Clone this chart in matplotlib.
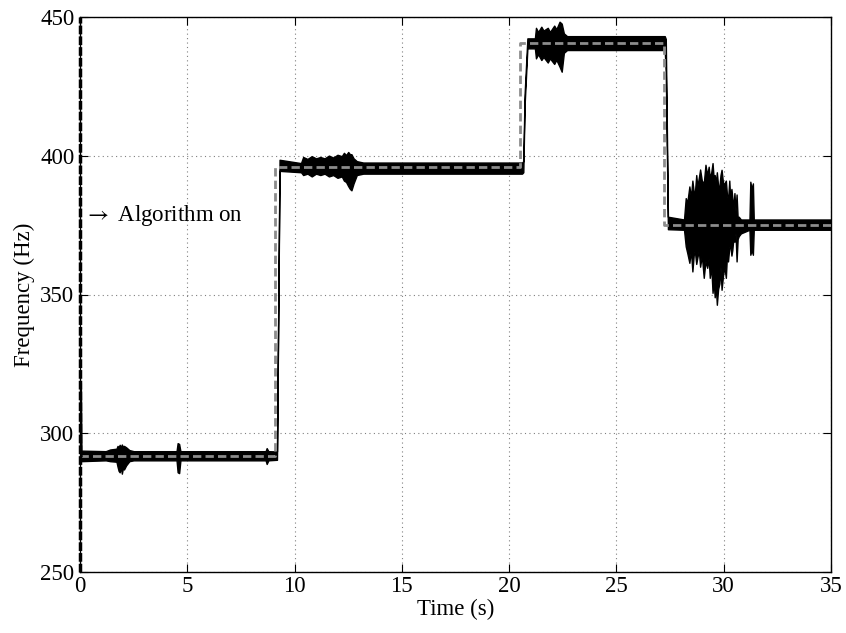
import numpy as np
import matplotlib
matplotlib.use('Agg')
import matplotlib.pyplot as plt

plt.rcParams['font.family'] = ['Liberation Serif', 'DejaVu Serif']
plt.rcParams['mathtext.fontset'] = 'stix'

# reference frequency (grey dashed), step values
ref_t = [0.0, 9.1, 20.5, 27.2, 35.0]
ref_f = [292.0, 396.0, 440.5, 375.0, 375.0]

env_t = [0.05, 1.2, 1.4, 1.7, 1.75, 1.8, 1.85, 1.9, 1.95, 2.0, 2.05, 2.15, 2.3, 2.5,
         4.5, 4.55, 4.62, 4.68, 8.65, 8.7, 8.78, 9.18,
         9.3, 10.3, 10.4, 10.6, 10.8, 11.0, 11.2, 11.4, 11.6, 11.8, 12.0, 12.2, 12.3, 12.4,
         12.5, 12.58, 12.65, 12.75, 12.9, 13.2, 20.6,
         20.66, 20.72, 20.85, 21.2, 21.25, 21.35, 21.5, 21.6, 21.8, 21.9, 22.1, 22.2, 22.35,
         22.45, 22.55, 22.7, 27.25,
         27.3, 27.4, 28.15, 28.23, 28.3, 28.4, 28.47, 28.54, 28.6, 28.65, 28.72, 28.77, 28.84,
         28.9, 28.98, 29.07, 29.15, 29.23, 29.3, 29.35, 29.42, 29.48, 29.53, 29.58, 29.63,
         29.68, 29.74, 29.8, 29.85, 29.9, 29.97, 30.03, 30.1, 30.15, 30.2, 30.26, 30.3, 30.36,
         30.4, 30.45, 30.5, 30.55, 30.6, 30.65, 30.7, 30.8,
         31.2, 31.24, 31.3, 31.36, 31.4, 35.0]
env_lo = [290.0, 290.3, 290.0, 289.8, 288.0, 286.5, 286.0, 288.0, 285.5, 287.5, 287.0, 288.5, 290.0, 290.3,
          290.3, 286.0, 285.7, 290.3, 290.3, 289.0, 290.3, 290.5,
          394.5, 394.0, 393.0, 393.5, 392.5, 393.5, 393.0, 393.5, 392.5, 393.0, 392.0, 392.5, 391.0, 390.5,
          389.0, 388.0, 387.5, 390.0, 393.0, 393.5, 393.5,
          394.0, 418.0, 438.6, 438.6, 435.0, 436.5, 434.4, 435.5, 433.5, 435.0, 433.0, 434.5, 432.0,
          430.2, 437.0, 438.0, 438.0,
          430.0, 373.5, 373.3, 367.3, 365.0, 361.4, 366.0, 358.3, 364.0, 366.0, 361.0, 363.2, 366.0,
          360.0, 364.0, 356.0, 362.0, 359.6, 363.0, 356.0, 360.0, 350.6, 355.0, 349.0, 353.0,
          346.3, 352.0, 354.0, 360.0, 351.7, 357.0, 360.0, 356.0, 364.0, 361.9, 367.0, 368.0, 364.0,
          366.0, 370.0, 369.0, 372.0, 361.9, 370.0, 371.0, 372.0,
          373.3, 364.3, 366.0, 364.3, 373.3, 373.3]
env_hi = [293.8, 293.6, 294.2, 294.5, 295.5, 295.0, 295.9, 295.0, 296.0, 295.2, 295.5, 295.0, 294.0, 293.6,
          293.6, 296.5, 296.2, 293.6, 293.6, 294.7, 293.6, 293.5,
          398.5, 397.3, 399.5, 398.8, 399.8, 399.0, 399.5, 399.0, 400.0, 399.3, 400.3, 399.8, 401.0, 400.2,
          401.3, 400.5, 400.5, 399.0, 398.0, 397.5, 397.5,
          398.0, 422.0, 442.2, 442.2, 446.0, 444.5, 446.4, 445.0, 446.0, 444.5, 446.8, 445.5, 448.2,
          447.5, 444.0, 443.0, 443.0,
          442.0, 378.0, 377.0, 384.7, 383.0, 388.9, 385.0, 391.0, 387.0, 386.0, 393.0, 389.0, 392.0,
          395.0, 391.0, 390.0, 396.7, 393.0, 396.0, 392.0, 394.0, 397.3, 392.0, 393.0, 390.0,
          394.0, 389.0, 389.0, 393.0, 394.9, 390.0, 390.0, 391.0, 386.0, 384.0, 391.0, 385.0, 388.0,
          385.0, 381.0, 386.5, 380.0, 386.0, 377.5, 378.0, 377.0,
          377.0, 390.6, 388.0, 390.0, 377.0, 377.0]

# start-up transient at t = 0
start_t = [0.0, 0.03, 0.06]
start_f = [292.0, 318.0, 292.0]

# "algorithm on" marker
on_t = 0.0
on_f = [250.0, 450.0]

fig = plt.figure(figsize=(8.46, 6.33), dpi=100)
ax = fig.add_axes([80/846, 60.7/633, 751/846, 555.6/633])

ax.fill_between(env_t, env_lo, env_hi, color='k', lw=1.0, zorder=3)
ax.plot(ref_t, ref_f, drawstyle='steps-post', color='#8c8c8c', lw=2.0,
        dashes=(3, 1.5), zorder=4)
ax.plot([on_t, on_t], on_f, color='k', lw=2.5, dashes=(2.5, 0.6), zorder=5, clip_on=False)
ax.plot(start_t, start_f, color='k', lw=2.0, zorder=6)

ax.text(0.2, 378.5, r'$\rightarrow$ Algorithm on', fontsize=16.5, ha='left', va='center')

ax.set_xlim(0, 35)
ax.set_ylim(250, 450)
ax.set_xticks([0, 5, 10, 15, 20, 25, 30, 35])
ax.set_yticks([250, 300, 350, 400, 450])
ax.tick_params(direction='in', top=True, right=True, labelsize=16.5, length=6, width=0.8)
ax.tick_params(axis='y', pad=4)
ax.tick_params(axis='x', pad=3)
ax.grid(True, color='#808080', lw=0.8, dashes=(1, 3))
for s in ax.spines.values():
    s.set_linewidth(1.0)

ax.set_xlabel('Time (s)', fontsize=16.5, labelpad=1)
ax.set_ylabel('Frequency (Hz)', fontsize=16.5, labelpad=4)

fig.savefig('out.png', dpi=100)
